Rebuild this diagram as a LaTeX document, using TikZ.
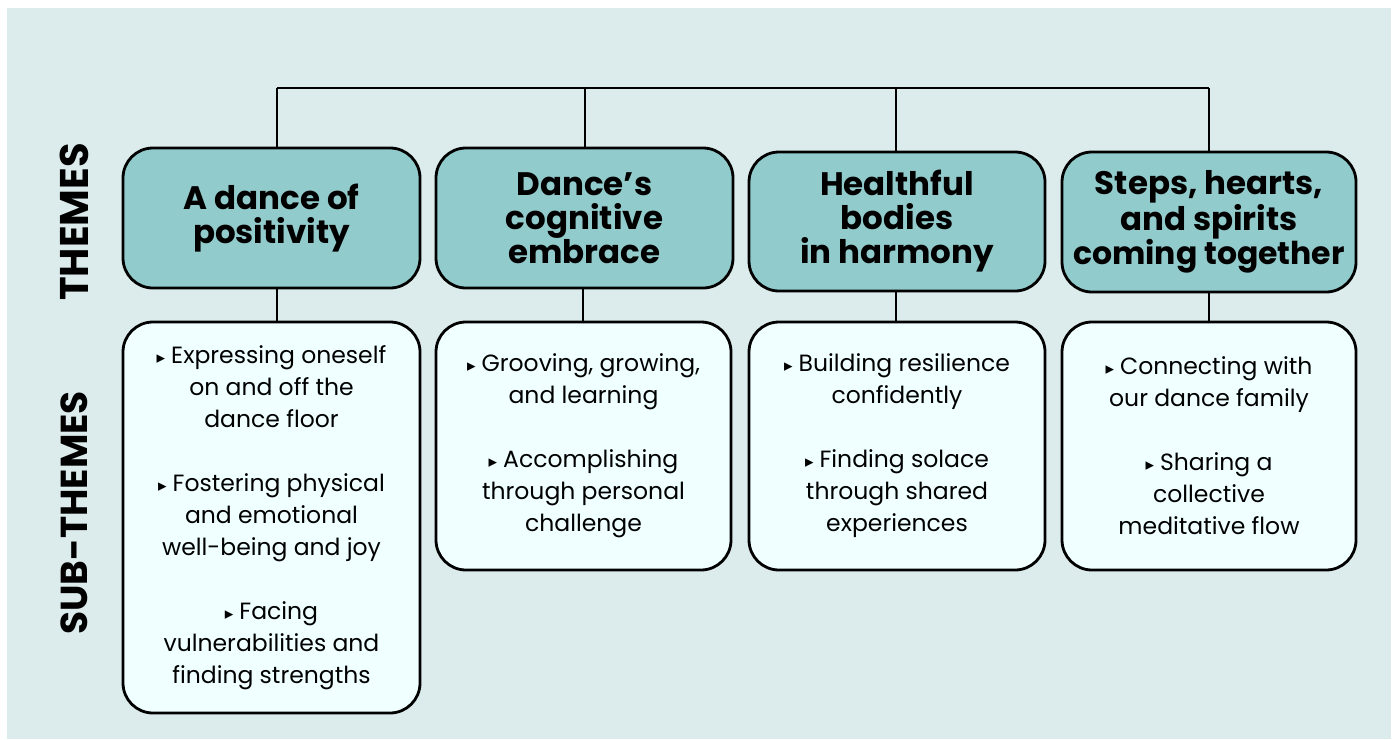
\documentclass[tikz,border=0pt]{standalone}
\usepackage{fontspec}
\setmainfont{Poppins}
\newfontfamily\dejavu{DejaVu Sans}
\definecolor{bgc}{RGB}{220,235,235}
\definecolor{themec}{RGB}{146,203,204}
\definecolor{subc}{RGB}{240,255,255}
\newcommand{\bul}{{\dejavu\fontsize{17pt}{17pt}\selectfont ▸}\hspace{6pt}}
\tikzset{
  themebox/.style={draw=black, line width=2.8pt, fill=themec, rounded corners=30pt,
    minimum width=#1, inner sep=0pt, align=center,
    font=\fontsize{32.5pt}{34pt}\selectfont\bfseries},
  subbox/.style={draw=black, line width=2.8pt, fill=subc, rounded corners=30pt,
    minimum width=#1, inner sep=0pt, align=center,
    font=\fontsize{23.5pt}{32pt}\selectfont},
  conn/.style={draw=black, line width=2.4pt},
  sidelabel/.style={rotate=90, font=\fontsize{40pt}{40pt}\selectfont\bfseries, inner sep=0pt}
}
\begin{document}
\begin{tikzpicture}[x=1pt,y=-1pt]
\useasboundingbox (0,0) rectangle (1396,739);
\fill[bgc] (7,8) rectangle (1391,739);

% side labels
\node[sidelabel] (lthemes) at (74.5,222) {THEMES};
\node[sidelabel, font=\fontsize{37.5pt}{40pt}\selectfont\bfseries] (lsub) at (74.5,513) {SUB-THEMES};

% theme boxes
\node[themebox=297pt, minimum height=140pt] (t1) at (271.5,218) {A dance of\\positivity};
\node[themebox=297pt, minimum height=140pt] (t2) at (584.5,218) {Dance’s\\cognitive\\embrace};
\node[themebox=296pt, minimum height=139pt] (t3) at (897,221.5) {Healthful\\bodies\\in harmony};
\node[themebox=294pt, minimum height=140pt] (t4) at (1209,222) {Steps, hearts,\\and spirits\\{\fontsize{31.5pt}{34pt}\selectfont coming together}};

% sub-theme boxes
\node[subbox=297pt, minimum height=391pt] (s1) at (271.5,517.5)
  {\bul Expressing oneself\\on and off the\\dance floor\\[32pt]\bul Fostering physical\\and emotional\\well-being and joy\\[32pt]\bul Facing\\vulnerabilities and\\finding strengths};
\node[subbox=295pt, minimum height=248pt] (s2) at (583.5,446)
  {\bul Grooving, growing,\\and learning\\[32pt]\bul Accomplishing\\through personal\\challenge};
\node[subbox=296pt, minimum height=248pt] (s3) at (897,446)
  {\bul Building resilience\\confidently\\[32pt]\bul Finding solace\\through shared\\experiences};
\node[subbox=294pt, minimum height=248pt] (s4) at (1209,446)
  {\bul Connecting with\\our dance family\\[32pt]\bul Sharing a\\collective\\meditative flow};

% top connector
\coordinate (c1) at (277,88);
\coordinate (c2) at (585,88);
\coordinate (c3) at (896,88);
\coordinate (c4) at (1209,88);
\draw[conn] (c1) -- (c4);
\draw[conn] (c1) -- (c1 |- t1.north);
\draw[conn] (c2) -- (c2 |- t2.north);
\draw[conn] (c3) -- (c3 |- t3.north);
\draw[conn] (c4) -- (c4 |- t4.north);

% theme to sub connectors
\coordinate (d1) at (277,300);
\coordinate (d2) at (583,300);
\coordinate (d3) at (896,300);
\coordinate (d4) at (1209,300);
\draw[conn] (d1 |- t1.south) -- (d1 |- s1.north);
\draw[conn] (d2 |- t2.south) -- (d2 |- s2.north);
\draw[conn] (d3 |- t3.south) -- (d3 |- s3.north);
\draw[conn] (d4 |- t4.south) -- (d4 |- s4.north);
\end{tikzpicture}
\end{document}
